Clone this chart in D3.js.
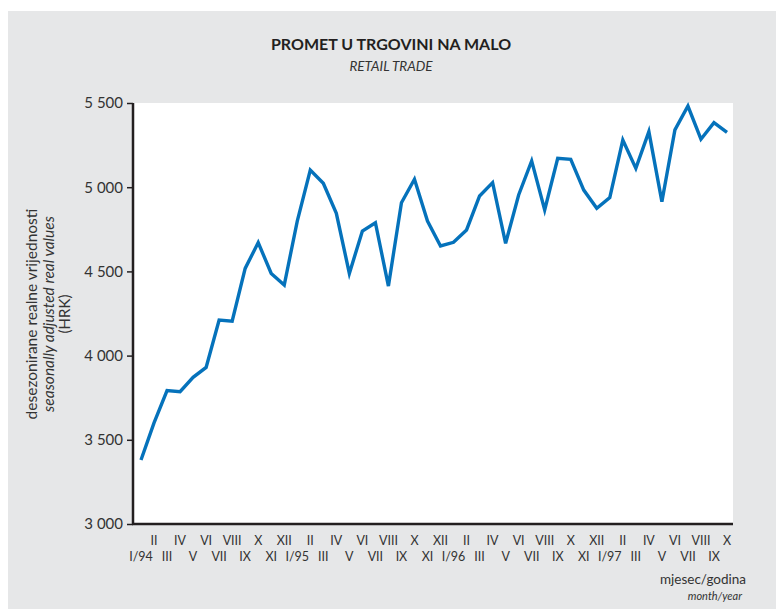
<!DOCTYPE html>
<html>
<head>
<meta charset="utf-8">
<script src="https://cdn.jsdelivr.net/npm/d3@7"></script>
<style>
  body { margin: 0; background: #fff; }
  text { font-family: Lato, "Open Sans", sans-serif; fill: #333; }
</style>
</head>
<body>
<script>
// months I/94 .. X/97
const monthLabels = ["I/94","II","III","IV","V","VI","VII","VIII","IX","X","XI","XII",
    "I/95","II","III","IV","V","VI","VII","VIII","IX","X","XI","XII",
    "I/96","II","III","IV","V","VI","VII","VIII","IX","X","XI","XII",
    "I/97","II","III","IV","V","VI","VII","VIII","IX","X"];

const retail = [3380, 3600, 3792, 3786, 3871, 3930, 4211, 4204, 4518, 4671, 4488, 4419,
    4799, 5102, 5023, 4845, 4488, 4740, 4789, 4413, 4908, 5047, 4799, 4651,
    4673, 4746, 4948, 5027, 4667, 4954, 5156, 4865, 5172, 5166, 4983, 4875,
    4938, 5280, 5112, 5330, 4914, 5340, 5482, 5285, 5383, 5326];

const yTicks = [3000, 3500, 4000, 4500, 5000, 5500];

const W = 776, H = 609;
const plot = { left: 133, right: 733, top: 103, bottom: 524 };

const svg = d3.select("body").append("svg")
    .attr("width", W)
    .attr("height", H);

// grey panel
svg.append("rect")
    .attr("x", 8).attr("y", 11)
    .attr("width", W - 8).attr("height", H - 11)
    .attr("fill", "#e6e7e8");

svg.append("rect")
    .attr("x", plot.left).attr("y", plot.top)
    .attr("width", plot.right - plot.left).attr("height", plot.bottom - plot.top)
    .attr("fill", "#fff");

const x = d3.scalePoint()
    .domain(d3.range(monthLabels.length))
    .range([141, 727]);

const y = d3.scaleLinear()
    .domain([3000, 5500])
    .range([plot.bottom, plot.top]);

// title
svg.append("text")
    .attr("x", 391).attr("y", 50)
    .attr("text-anchor", "middle")
    .style("font-size", "16px")
    .style("font-weight", "bold")
    .style("fill", "#231f20")
    .text("PROMET U TRGOVINI NA MALO");

svg.append("text")
    .attr("x", 391).attr("y", 71)
    .attr("text-anchor", "middle")
    .style("font-size", "13.5px")
    .style("font-style", "italic")
    .text("RETAIL TRADE");

// y axis
const yAxis = svg.append("g")
    .attr("transform", `translate(${plot.left},0)`)
    .call(d3.axisLeft(y)
        .tickValues(yTicks)
        .tickSize(6)
        .tickFormat(d => d3.format(",")(d).replace(",", " ")));
yAxis.select(".domain").remove();
yAxis.selectAll("line").attr("stroke", "#231f20").attr("stroke-width", 1.5);
yAxis.selectAll("text")
    .attr("x", -10)
    .style("font-size", "15px")
    .style("font-family", "Lato, sans-serif")
    .attr("fill", "#333");

svg.append("line")
    .attr("x1", plot.left).attr("x2", plot.left)
    .attr("y1", plot.top).attr("y2", plot.bottom + 1)
    .attr("stroke", "#231f20").attr("stroke-width", 2.5);

svg.append("line")
    .attr("x1", plot.left - 1).attr("x2", plot.right)
    .attr("y1", plot.bottom).attr("y2", plot.bottom)
    .attr("stroke", "#231f20").attr("stroke-width", 2.5);

// month labels, two rows
svg.append("g").selectAll("text")
    .data(monthLabels)
    .join("text")
    .attr("x", (d, i) => x(i))
    .attr("y", (d, i) => i % 2 === 1 ? 545 : 561)
    .attr("text-anchor", "middle")
    .style("font-size", "12.5px")
    .text(d => d);

// axis titles
const yTitle = svg.append("g")
    .attr("transform", "translate(0,314) rotate(-90)");
yTitle.append("text")
    .attr("x", 0).attr("y", 37)
    .attr("text-anchor", "middle")
    .style("font-size", "15.5px")
    .text("desezonirane realne vrijednosti");
yTitle.append("text")
    .attr("x", 0).attr("y", 54)
    .attr("text-anchor", "middle")
    .style("font-size", "15.5px")
    .style("font-style", "italic")
    .text("seasonally adjusted real values");
yTitle.append("text")
    .attr("x", 0).attr("y", 70)
    .attr("text-anchor", "middle")
    .style("font-size", "15px")
    .text("(HRK)");

svg.append("text")
    .attr("x", 746).attr("y", 584)
    .attr("text-anchor", "end")
    .style("font-size", "13.5px")
    .text("mjesec/godina");

svg.append("text")
    .attr("x", 742).attr("y", 600)
    .attr("text-anchor", "end")
    .style("font-size", "11px")
    .style("font-style", "italic")
    .text("month/year");

// series
const line = d3.line()
    .x((d, i) => x(i))
    .y(d => y(d));

svg.append("path")
    .datum(retail)
    .attr("d", line)
    .attr("fill", "none")
    .attr("stroke", "#0572bb")
    .attr("stroke-width", 3.4)
    .attr("stroke-linejoin", "miter");
</script>
</body>
</html>
